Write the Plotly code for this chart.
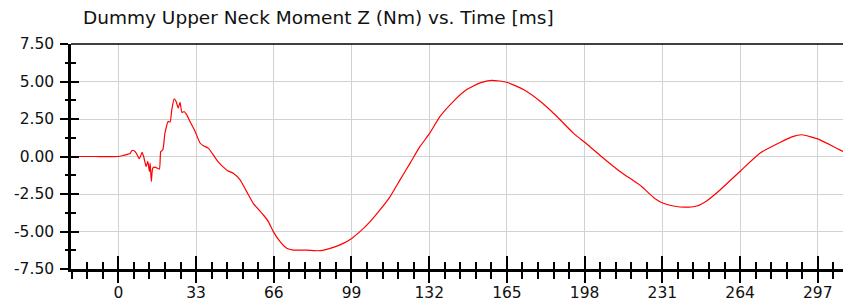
import plotly.graph_objects as go

# Time [ms]
time_ms = [-20.0, -10.0, 0.0, 2.1, 4.2, 5.0, 5.7, 6.7, 7.8, 8.9, 10.1, 10.9, 11.8, 12.5,
           13.2, 13.5, 14.0, 14.6, 15.6, 17.4, 18.0, 18.9, 19.8, 21.2, 22.0, 22.7, 23.7,
           24.5, 25.4, 26.2, 27.0, 27.9, 29.0, 30.4, 32.6, 34.7, 36.1, 38.2, 40.3, 42.5,
           44.6, 46.4, 48.8, 51.7, 54.5, 57.3, 61.6, 63.7, 65.8, 68.7, 71.5, 74.3, 80.0,
           85.6, 91.3, 95.5, 99.1, 102.6, 106.9, 111.1, 115.4, 119.6, 123.9, 128.1, 132.1,
           136.6, 142.3, 147.9, 153.6, 158.6, 164.9, 172.0, 179.1, 186.2, 193.2, 198.8,
           205.1, 213.0, 222.2, 226.0, 228.6, 231.4, 235.7, 240.6, 245.6, 249.8, 255.5,
           264.4, 272.4, 280.9, 286.6, 290.2, 297.2, 303.6, 307.7]
# Moment Z [Nm]
moment_z = [0.0, 0.0, 0.0, 0.07, 0.16, 0.2, 0.38, 0.38, 0.18, -0.15, 0.27, -0.1, -0.67, -0.33,
            -1.0, -0.44, -1.67, -0.78, -0.71, -0.84, 0.33, 0.45, 1.56, 2.34, 2.3, 3.12, 3.84,
            3.68, 3.23, 3.61, 2.94, 3.0, 2.79, 2.34, 1.67, 0.9, 0.72, 0.56, 0.11, -0.38,
            -0.71, -0.95, -1.11, -1.56, -2.34, -3.12, -3.9, -4.34, -5.01, -5.68, -6.12, -6.24,
            -6.24, -6.28, -6.06, -5.79, -5.46, -5.01, -4.34, -3.56, -2.67, -1.56, -0.44, 0.67,
            1.52, 2.67, 3.68, 4.46, 4.91, 5.08, 4.95, 4.46, 3.68, 2.67, 1.56, 0.85,
            0.0, -1.0, -2.0, -2.56, -2.89, -3.12, -3.30, -3.38, -3.30, -2.96, -2.23,
            -0.93, 0.22, 0.93, 1.34, 1.45, 1.16, 0.67, 0.33]

x_major = [0, 33, 66, 99, 132, 165, 198, 231, 264, 297]
y_major = [-7.5, -5.0, -2.5, 0.0, 2.5, 5.0, 7.5]
y_labels = ["-7.50", "-5.00", "-2.50", "0.00", "2.50", "5.00", "7.50"]
title_text = "Dummy Upper Neck Moment Z (Nm) vs. Time [ms]"

x_range = [-20.1, 307.7]
y_range = [-7.5, 7.5]
grid = "#d2d2d2"
font = "DejaVu Sans, sans-serif"
txt = "#111111"

fig = go.Figure()
fig.add_trace(go.Scatter(x=time_ms, y=moment_z, mode="lines",
                         line=dict(color="#ff0000", width=1.2, shape="spline", smoothing=0.5),
                         showlegend=False))
fig.add_trace(go.Scatter(x=[None], y=[None], xaxis="x2", yaxis="y2",
                         showlegend=False, hoverinfo="skip"))

fig.update_layout(
    width=843, height=303,
    margin=dict(l=71, r=0, t=44, b=34, autoexpand=False),
    paper_bgcolor="white", plot_bgcolor="white",
    font=dict(family=font, color=txt),
    xaxis=dict(range=x_range, tickmode="array", tickvals=x_major,
               ticktext=[str(v) for v in x_major], automargin=False,
               showgrid=True, gridcolor=grid, gridwidth=1, zeroline=False,
               showline=True, linecolor="black", linewidth=2.5,
               ticks="outside", ticklen=11, tickwidth=2, tickcolor="black",
               ticklabelstandoff=-3,
               tickfont=dict(size=15.5, family=font, color=txt),
               minor=dict(dtick=6.6, tick0=0, ticks="outside", ticklen=7,
                          tickwidth=2, tickcolor="black", showgrid=False)),
    xaxis2=dict(overlaying="x", matches="x", anchor="y", side="bottom",
                range=x_range, tickmode="array", tickvals=x_major,
                showticklabels=False, showgrid=False, zeroline=False, showline=False,
                ticks="inside", ticklen=13, tickwidth=2, tickcolor="black",
                minor=dict(dtick=6.6, tick0=0, ticks="inside", ticklen=7,
                           tickwidth=2, tickcolor="black", showgrid=False)),
    yaxis=dict(range=y_range, tickmode="array", tickvals=y_major, ticktext=y_labels,
               automargin=False,
               showgrid=True, gridcolor=grid, gridwidth=1, zeroline=False,
               showline=True, linecolor="black", linewidth=2.5,
               ticks="outside", ticklen=8, tickwidth=2, tickcolor="black",
               ticklabelstandoff=3,
               tickfont=dict(size=15.5, family=font, color=txt),
               minor=dict(dtick=1.25, tick0=0, ticks="outside", ticklen=3.5,
                          tickwidth=2, tickcolor="black", showgrid=False)),
    yaxis2=dict(overlaying="y", matches="y", anchor="x", side="left",
                range=y_range, tickmode="array", tickvals=y_major,
                showticklabels=False, showgrid=False, zeroline=False, showline=False,
                ticks="inside", ticklen=8, tickwidth=2, tickcolor="black",
                minor=dict(dtick=1.25, tick0=0, ticks="inside", ticklen=4.5,
                           tickwidth=2, tickcolor="black", showgrid=False)),
    shapes=[dict(type="line", xref="paper", yref="paper", x0=0, x1=1, y0=1, y1=1,
                 line=dict(color="black", width=1.5))],
    annotations=[dict(text=title_text, xref="paper", yref="paper",
                      x=(81 - 71) / 772, y=1, xanchor="left", yanchor="bottom",
                      yshift=14, showarrow=False,
                      font=dict(size=18.5, family=font, color=txt))],
)

fig.write_html("out.html", config={"displayModeBar": False},
               post_script="document.body.style.margin='0px';document.body.style.padding='0px';")
